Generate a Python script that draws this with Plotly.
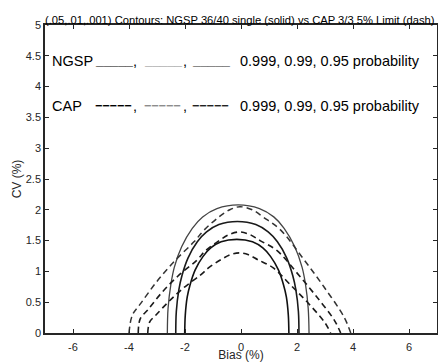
import plotly.graph_objects as go

# ---- data ----
# NGSP 36/40 single (solid) contours
ngsp_999_bias = [-2.01, -1.99, -1.92, -1.82, -1.64, -1.36, -1.08, -0.71, -0.15, 0.41, 0.78, 1.06, 1.34, 1.52, 1.62, 1.69, 1.71]
ngsp_999_cv   = [0.00, 0.29, 0.585, 0.78, 1.02, 1.24, 1.38, 1.48, 1.52, 1.48, 1.38, 1.24, 1.02, 0.78, 0.585, 0.29, 0.00]
ngsp_99_bias  = [-2.33, -2.31, -2.22, -2.11, -1.89, -1.56, -1.23, -0.79, -0.13, 0.53, 0.97, 1.30, 1.63, 1.85, 1.96, 2.05, 2.07]
ngsp_99_cv    = [0.00, 0.35, 0.70, 0.93, 1.22, 1.48, 1.64, 1.76, 1.81, 1.76, 1.64, 1.48, 1.22, 0.93, 0.70, 0.35, 0.00]
ngsp_95_bias  = [-2.63, -2.605, -2.50, -2.38, -2.12, -1.74, -1.37, -0.86, -0.10, 0.66, 1.17, 1.54, 1.92, 2.18, 2.30, 2.40, 2.43]
ngsp_95_cv    = [0.00, 0.40, 0.80, 1.07, 1.40, 1.70, 1.885, 2.02, 2.08, 2.02, 1.885, 1.70, 1.40, 1.07, 0.80, 0.40, 0.00]

# CAP 3/3 5% limit (dashed) contours
cap_999_bias = [-3.33, -3.26, -3.02, -2.58, -2.03, -1.45, -1.15, -0.72, -0.39, -0.06, 0.27, 0.60, 1.14, 1.79, 2.41, 3.00, 3.20]
cap_999_cv   = [0.00, 0.18, 0.30, 0.51, 0.74, 0.94, 1.06, 1.19, 1.27, 1.30, 1.27, 1.19, 1.06, 0.77, 0.48, 0.165, 0.00]
cap_99_bias  = [-3.67, -3.60, -3.32, -2.84, -2.24, -1.58, -1.26, -0.78, -0.42, -0.05, 0.31, 0.68, 1.28, 1.99, 2.68, 3.33, 3.56]
cap_99_cv    = [0.00, 0.23, 0.38, 0.65, 0.93, 1.18, 1.34, 1.50, 1.60, 1.64, 1.60, 1.50, 1.34, 0.98, 0.60, 0.21, 0.00]
cap_95_bias  = [-4.00, -3.88, -3.58, -3.05, -2.39, -1.68, -1.32, -0.80, -0.40, -0.04, 0.40, 0.80, 1.42, 2.20, 2.96, 3.68, 3.92]
cap_95_cv    = [0.00, 0.29, 0.48, 0.81, 1.16, 1.48, 1.67, 1.88, 2.00, 2.05, 2.00, 1.88, 1.67, 1.22, 0.75, 0.26, 0.00]

x_tickvals = [-6, -4, -2, 0, 2, 4, 6]
x_ticktext = ["-6", "-4", "-2", "0", "2", "4", "6"]
y_tickvals = [0, 0.5, 1, 1.5, 2, 2.5, 3, 3.5, 4, 4.5, 5]
y_ticktext = ["0", "0.5", "1", "1.5", "2", "2.5", "3", "3.5", "4", "4.5", "5"]

title_text = "(.05,.01,.001) Contours: NGSP 36/40 single (solid) vs CAP 3/3 5% Limit (dash)"

FONT = "Liberation Sans, Arial, sans-serif"
AX = "#262626"

fig = go.Figure()

solid = [(ngsp_999_bias, ngsp_999_cv, "#111111", 1.6),
         (ngsp_99_bias, ngsp_99_cv, "#1a1a1a", 1.6),
         (ngsp_95_bias, ngsp_95_cv, "#444444", 1.3)]
dashed = [(cap_999_bias, cap_999_cv, "#1a1a1a", 1.6),
          (cap_99_bias, cap_99_cv, "#1a1a1a", 1.6),
          (cap_95_bias, cap_95_cv, "#333333", 1.5)]

for xs, ys, col, w in solid:
    fig.add_trace(go.Scatter(x=xs, y=ys, mode="lines",
                             line=dict(color=col, width=w, shape="spline", smoothing=1.0),
                             showlegend=False, hoverinfo="skip"))
for xs, ys, col, w in dashed:
    fig.add_trace(go.Scatter(x=xs, y=ys, mode="lines",
                             line=dict(color=col, width=w, dash="6px,4px", shape="spline", smoothing=1.0),
                             showlegend=False, hoverinfo="skip"))

def ann(x, y, text, size=14.5, color="#000000"):
    fig.add_annotation(x=x, y=y, xref="x", yref="y", text=text, showarrow=False,
                       xanchor="left", yanchor="middle",
                       font=dict(family=FONT, size=size, color=color))

# NGSP row
ann(-6.82, 4.42, "NGSP")
ann(-5.30, 4.42, "<b>_____</b>", size=13.3, color="#000000")
ann(-3.92, 4.42, ",", color="#000000")
ann(-3.55, 4.42, "<b>_____</b>", size=13.3, color="#8c8c8c")
ann(-2.16, 4.42, ",", color="#000000")
ann(-1.82, 4.42, "<b>_____</b>", size=13.3, color="#222222")
ann(-0.1, 4.42, "0.999, 0.99, 0.95 probability")
# CAP row
ann(-6.82, 3.68, "CAP")
ann(-5.30, 3.68, "<b>−−−−−</b>", size=12.5, color="#000000")
ann(-3.92, 3.68, ",", color="#000000")
ann(-3.55, 3.68, "<b>−−−−−</b>", size=12.5, color="#8c8c8c")
ann(-2.16, 3.68, ",", color="#000000")
ann(-1.82, 3.68, "<b>−−−−−</b>", size=12.5, color="#222222")
ann(-0.1, 3.68, "0.999, 0.99, 0.95 probability")

fig.update_layout(
    width=438, height=362,
    margin=dict(l=45, r=1, t=25, b=29),
    paper_bgcolor="white", plot_bgcolor="white",
    font=dict(family=FONT, size=11, color=AX),
    title=dict(text=title_text, x=45 / 438, xref="container", xanchor="left",
               y=1 - 20 / 362, yref="container", yanchor="middle",
               font=dict(family=FONT, size=11.2, color="#000000")),
)
fig.update_xaxes(range=[-7, 7], tickvals=x_tickvals, ticktext=x_ticktext,
                 ticks="inside", ticklen=4, tickwidth=1, tickcolor=AX,
                 showline=True, linecolor=AX, linewidth=1.5, mirror="allticks",
                 showgrid=False, zeroline=False, automargin=False,
                 ticklabelstandoff=3,
                 title=dict(text="Bias (%)", standoff=9, font=dict(size=12, color=AX)),
                 tickfont=dict(size=11, color=AX))
fig.update_yaxes(range=[0, 5], tickvals=y_tickvals, ticktext=y_ticktext,
                 ticks="inside", ticklen=4, tickwidth=1, tickcolor=AX,
                 showline=True, linecolor=AX, linewidth=1.5, mirror="allticks",
                 showgrid=False, zeroline=False, automargin=False,
                 title=dict(text="CV (%)", standoff=2, font=dict(size=12, color=AX)),
                 tickfont=dict(size=11, color=AX))

fig.write_html("out.html", config={"displayModeBar": False},
               post_script="document.body.style.margin='0';document.body.style.overflow='hidden';")
